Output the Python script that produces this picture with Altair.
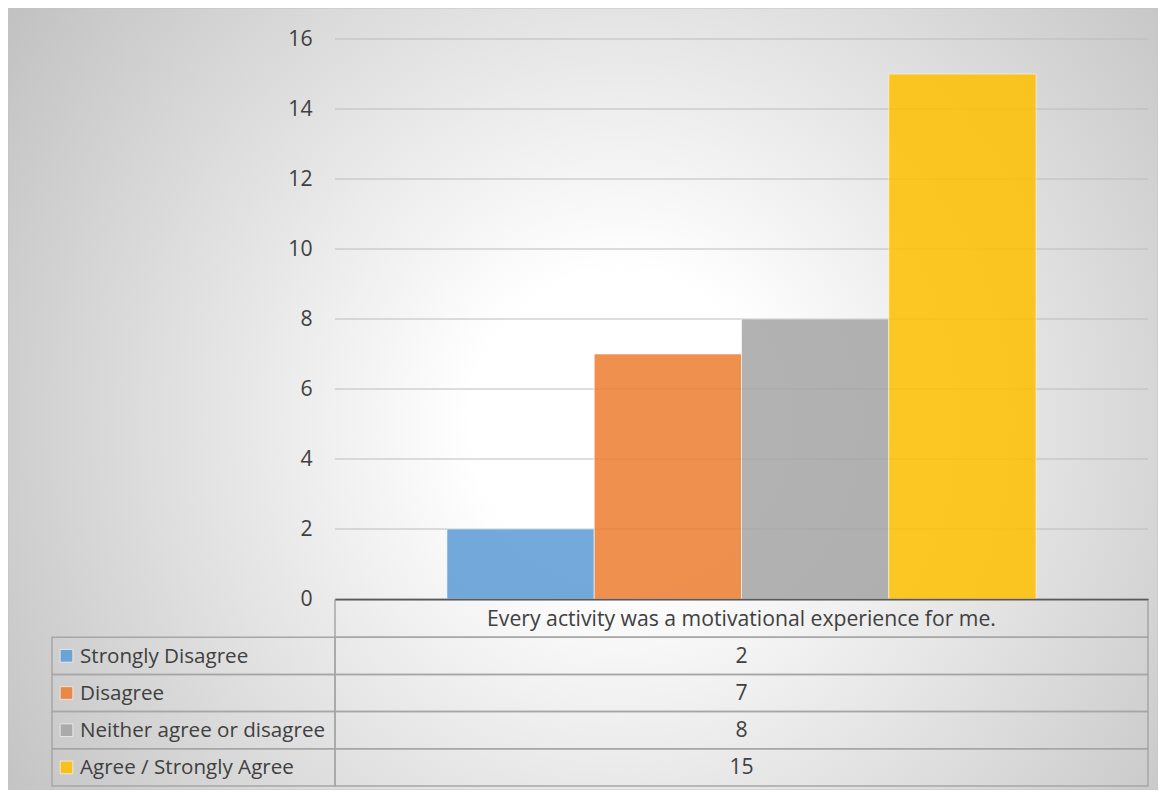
import altair as alt
import pandas as pd

# ---- data ----
categories = ["Strongly Disagree", "Disagree", "Neither agree or disagree", "Agree / Strongly Agree"]
values = [2, 7, 8, 15]
colors = ["#5B9BD5", "#ED7D31", "#A5A5A5", "#FFC000"]
question = "Every activity was a motivational experience for me."
y_ticks = [0, 2, 4, 6, 8, 10, 12, 14, 16]
header_key = "header"

FONT = "Open Sans"
FS = 21.2
TXT = "#404040"
W, H = 813, 560

bars_df = pd.DataFrame({"response": categories, "value": values})
grid_df = pd.DataFrame({"tick": y_ticks})
rows_all = [header_key] + categories
right_df = pd.DataFrame({"row": rows_all, "label": [question] + [str(v) for v in values]})
left_df = pd.DataFrame({"row": categories, "response": categories})

color_scale = alt.Scale(domain=categories, range=colors)
yscale = alt.Scale(domain=[0, 16], nice=False, zero=True)
row_scale = alt.Scale(domain=rows_all, range=[561, 747], paddingInner=0, paddingOuter=0)

y_axis = alt.Axis(
    title=None, values=y_ticks, grid=False, domain=False, ticks=False,
    labelPadding=23, labelFont=FONT, labelFontSize=FS, labelColor=TXT,
    zindex=2,
)

# background with radial gradient (decoration)
bg = alt.Chart(alt.Data(values=[{}])).mark_rect(
    color={
        "gradient": "radial",
        "x1": 0.532, "y1": 0.52, "r1": 0,
        "x2": 0.532, "y2": 0.52, "r2": 0.652,
        "stops": [
            {"offset": 0, "color": "#ffffff"},
            {"offset": 0.2, "color": "#ffffff"},
            {"offset": 1, "color": "#c0c0c0"},
        ],
    },
    stroke="#c4c4c4",
    strokeWidth=1,
).encode(
    x=alt.value(-327), x2=alt.value(823), y=alt.value(-31), y2=alt.value(751)
)

grid = alt.Chart(grid_df).mark_rule(color="#bcbcbc", strokeWidth=1).encode(
    y=alt.Y("tick:Q", scale=yscale, axis=y_axis),
    x=alt.value(0),
    x2=alt.value(W),
)

bars = alt.Chart(bars_df).mark_bar(
    opacity=0.85, stroke="white", strokeWidth=1, strokeOpacity=0.6
).encode(
    x=alt.X(
        "response:N",
        sort=categories,
        scale=alt.Scale(paddingInner=0, paddingOuter=0.76),
        axis=alt.Axis(
            title=None, labels=False, ticks=False, grid=False,
            domainColor="#595959", domainWidth=1.5, zindex=2,
        ),
    ),
    y=alt.Y("value:Q", scale=yscale, axis=y_axis),
    color=alt.Color("response:N", scale=color_scale, legend=None),
)

plot = alt.layer(grid, bars)

right_cells = alt.Chart(right_df).mark_rect(
    fillOpacity=0, stroke="#a6a6a6", strokeWidth=1.5
).encode(
    y=alt.Y("row:N", scale=row_scale, sort=rows_all, axis=None),
    x=alt.value(0), x2=alt.value(W),
)
left_cells = alt.Chart(left_df).mark_rect(
    fillOpacity=0, stroke="#a6a6a6", strokeWidth=1.5
).encode(
    y=alt.Y("row:N", scale=row_scale, sort=rows_all, axis=None),
    x=alt.value(-283), x2=alt.value(0),
)
right_text = alt.Chart(right_df).mark_text(
    font=FONT, fontSize=FS, color=TXT, align="center", baseline="alphabetic", dy=7
).encode(
    y=alt.Y("row:N", scale=row_scale, sort=rows_all, axis=None, bandPosition=0.5),
    x=alt.value(W / 2),
    text="label:N",
)
left_text = alt.Chart(left_df).mark_text(
    font=FONT, fontSize=20.6, color=TXT, align="left", baseline="alphabetic", dy=7
).encode(
    y=alt.Y("row:N", scale=row_scale, sort=rows_all, axis=None, bandPosition=0.5),
    x=alt.value(-255),
    text="response:N",
)
keys = alt.Chart(left_df).mark_point(
    shape="square", filled=True, size=160, opacity=0.85,
    stroke="white", strokeWidth=1, strokeOpacity=0.7,
).encode(
    y=alt.Y("row:N", scale=row_scale, sort=rows_all, axis=None, bandPosition=0.5),
    x=alt.value(-268.5),
    color=alt.Color("response:N", scale=color_scale, legend=None),
)

table = alt.layer(right_cells, left_cells, right_text, left_text, keys)

chart = alt.layer(bg, plot, table).resolve_scale(y="independent").properties(
    width=W,
    height=H,
    padding={"left": 327, "top": 31, "right": 10, "bottom": 191},
    autosize="none",
).configure_view(stroke=None)

chart.save("out.html", embed_options={"renderer": "svg", "actions": False})
